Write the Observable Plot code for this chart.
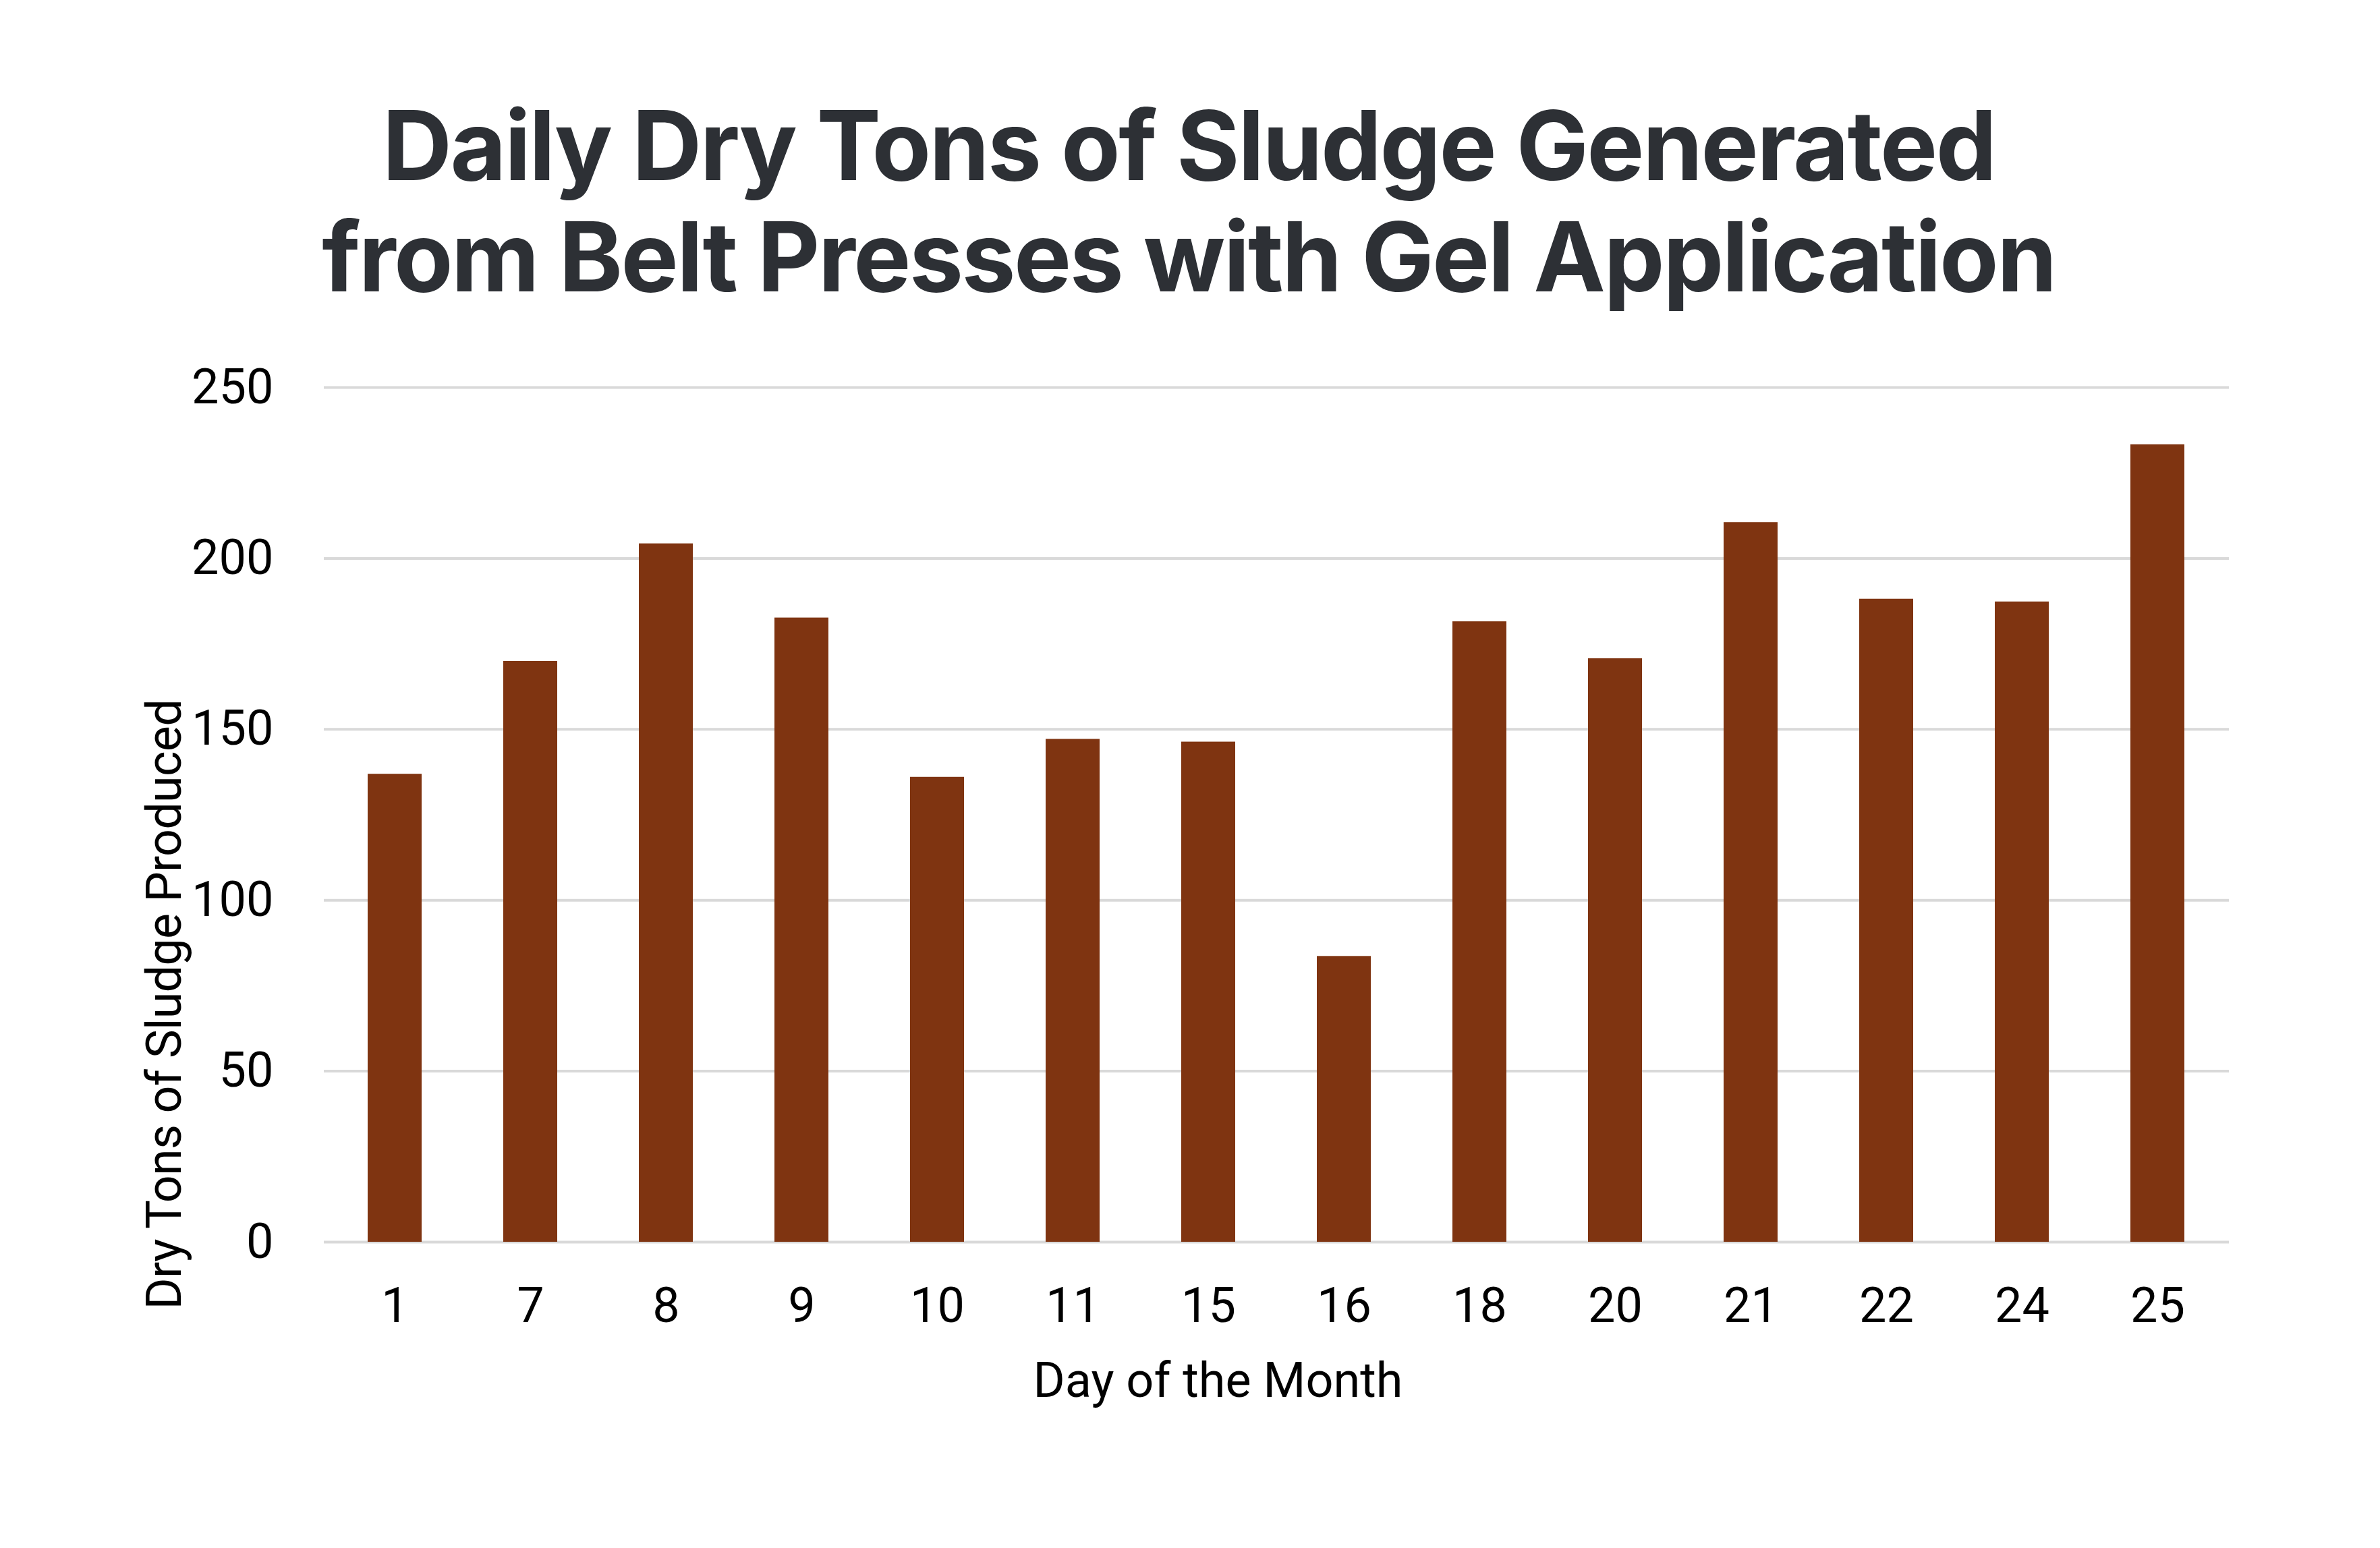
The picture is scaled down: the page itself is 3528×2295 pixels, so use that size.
<!DOCTYPE html>
<html>
<head>
<meta charset="utf-8">
<script src="https://cdn.jsdelivr.net/npm/d3@7"></script>
<script src="https://cdn.jsdelivr.net/npm/@observablehq/plot@0.6"></script>
<style>
  html, body { margin: 0; padding: 0; background: #ffffff; }
  #wrap { width: 3528px; height: 2295px; overflow: hidden; background: #fff; }
  #title {
    width: 3528px; height: 480px; box-sizing: border-box;
    padding-top: 132px; padding-right: 4px;
    text-align: center;
    font-family: Inter, "Noto Sans", sans-serif;
    font-weight: 700; font-size: 143px; line-height: 165px;
    color: #2d3035; letter-spacing: -2.5px;
  }
  #chart svg { display: block; }
  .ylab text { letter-spacing: -0.8px; }
</style>
</head>
<body>
<div id="wrap">
  <div id="title">Daily Dry Tons of Sludge Generated<br>from Belt Presses with Gel Application</div>
  <div id="chart"></div>
</div>
<script>
const days = ["1", "7", "8", "9", "10", "11", "15", "16", "18", "20", "21", "22", "24", "25"];
const tons = [136.9, 169.9, 204.3, 182.6, 136.0, 147.1, 146.3, 83.6, 181.5, 170.7, 210.5, 188.1, 187.3, 233.3];
const yTicks = [0, 50, 100, 150, 200, 250];
const xLabel = "Day of the Month";
const yLabel = "Dry Tons of Sludge Produced";

const data = days.map((d, i) => ({day: d, tons: tons[i]}));

const axisFont = "Roboto, Inter, 'Noto Sans', sans-serif";

const chart = Plot.plot({
  width: 3528,
  height: 1815,
  marginTop: 94,
  marginBottom: 454,
  marginLeft: 480,
  marginRight: 224,
  style: {fontFamily: axisFont, fontSize: "72px", color: "#000", background: "#fff"},
  x: {type: "band", domain: days, paddingInner: 0.6, paddingOuter: 0.3, label: null},
  y: {domain: [0, 250], label: null},
  marks: [
    Plot.gridY(yTicks, {stroke: "#d9d9d9", strokeOpacity: 1, strokeWidth: 4}),
    Plot.barY(data, {x: "day", y: "tons", fill: "#7f3411"}),
    Plot.axisX({tickSize: 0, tickPadding: 67, fontSize: 72, fill: "#000", label: null}),
    Plot.axisY({ticks: yTicks, tickSize: 0, tickPadding: 75, fontSize: 72, fill: "#000", label: null}),
    Plot.text([xLabel], {text: d => d, frameAnchor: "bottom", lineAnchor: "bottom", dx: -87, dy: 229, fontSize: 72, fill: "#000"}),
    Plot.text([yLabel], {text: d => d, className: "ylab", frameAnchor: "bottom-left", textAnchor: "start", lineAnchor: "bottom", rotate: -90, dx: -213, dy: 100, fontSize: 72, fill: "#000"})
  ]
});
document.getElementById("chart").appendChild(chart);
</script>
</body>
</html>
